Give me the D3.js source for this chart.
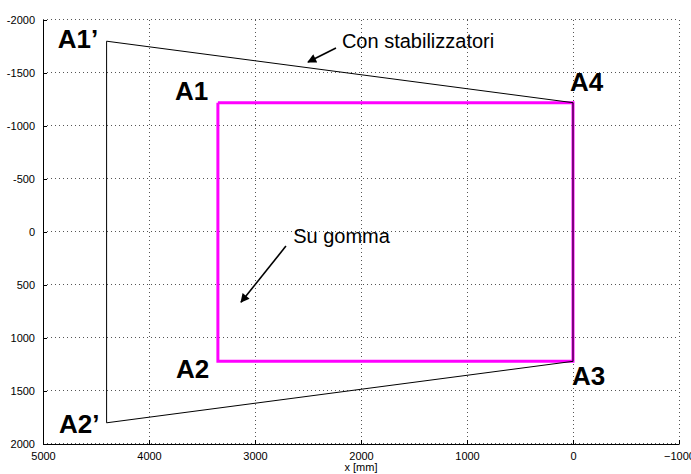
<!DOCTYPE html>
<html>
<head>
<meta charset="utf-8">
<script src="https://cdn.jsdelivr.net/npm/d3@7"></script>
<style>
  body { margin: 0; background: #fff; }
  svg { display: block; font-family: "Liberation Sans", Arial, sans-serif; }
</style>
</head>
<body>
<div id="chart"></div>
<script>
// axis ticks
const xTicks = [5000, 4000, 3000, 2000, 1000, 0, -1000];
const yTicks = [-2000, -1500, -1000, -500, 0, 500, 1000, 1500, 2000];

// outline "Con stabilizzatori" (A1', A4, A3, A2', back to A1')
const stabX = [4400, 0, 0, 4400, 4400];
const stabY = [-1800, -1220, 1220, 1800, -1800];

// outline "Su gomma" (A1, A4, A3, A2, back to A1)
const gommaX = [3350, 0, 0, 3350, 3350];
const gommaY = [-1220, -1220, 1220, 1220, -1220];

// corner labels, anchored in data units
const cornerNames = ["A1\u2019", "A1", "A4", "A3", "A2", "A2\u2019"];
const cornerX = [4860, 3755, 28, 10, 3745, 4850];
const cornerY = [-1736, -1245, -1330, 1446, 1380, 1899];

// annotations: text + arrow (tail -> head), data units
const noteText = ["Con stabilizzatori", "Su gomma"];
const noteX = [2180, 2640];
const noteY = [-1736, 105];
const arrowFromX = [2236, 2708];
const arrowFromY = [-1736, 133];
const arrowToX = [2500, 3132];
const arrowToY = [-1604, 662];

const W = 691, H = 474;
const margin = {top: 20, right: 12, bottom: 30, left: 43};
const width = W - margin.left - margin.right;
const height = H - margin.top - margin.bottom;

const svg = d3.select("#chart").append("svg")
    .attr("width", W)
    .attr("height", H);

svg.append("defs").append("marker")
    .attr("id", "head")
    .attr("viewBox", "0 0 10 10")
    .attr("refX", 9)
    .attr("refY", 5)
    .attr("markerUnits", "userSpaceOnUse")
    .attr("markerWidth", 11)
    .attr("markerHeight", 9)
    .attr("orient", "auto")
    .append("path")
    .attr("d", "M0,0 L10,5 L0,10 z")
    .attr("fill", "#000");

const g = svg.append("g")
    .attr("transform", "translate(" + margin.left + "," + margin.top + ")");

const x = d3.scaleLinear().domain([5000, -1000]).range([0, width]);
const y = d3.scaleLinear().domain([-2000, 2000]).range([0, height]);

// grid (dotted, matlab style)
g.append("g").selectAll("line.vg")
    .data(xTicks)
    .enter().append("line")
    .attr("x1", d => x(d) + 0.5).attr("x2", d => x(d) + 0.5)
    .attr("y1", 0).attr("y2", height)
    .attr("stroke", "#555").attr("stroke-width", 1)
    .attr("stroke-dasharray", "1,3");

g.append("g").selectAll("line.hg")
    .data(yTicks)
    .enter().append("line")
    .attr("x1", 0).attr("x2", width)
    .attr("y1", d => y(d) - 0.5).attr("y2", d => y(d) - 0.5)
    .attr("stroke", "#555").attr("stroke-width", 1)
    .attr("stroke-dasharray", "1,3");

// axes
const xAxis = d3.axisBottom(x)
    .tickValues(xTicks)
    .tickSizeInner(-4)
    .tickSizeOuter(0)
    .tickPadding(8)
    .tickFormat(d => d < 0 ? "\u2212" + Math.abs(d) : String(d));

const yAxis = d3.axisLeft(y)
    .tickValues(yTicks)
    .tickSizeInner(-4)
    .tickSizeOuter(0)
    .tickPadding(8)
    .tickFormat(d => d < 0 ? "-" + Math.abs(d) : String(d));

const gx = g.append("g")
    .attr("transform", "translate(0," + height + ")")
    .call(xAxis);
const gy = g.append("g").call(yAxis);

[gx, gy].forEach(a => {
    a.selectAll("text").style("font-size", "11px").style("font-family", "'Liberation Sans', Arial, sans-serif").attr("fill", "#000");
    a.selectAll("line").attr("stroke", "#000");
    a.select(".domain").attr("stroke", "#000");
});

g.append("text")
    .attr("x", width / 2)
    .attr("y", height + 27)
    .attr("text-anchor", "middle")
    .style("font-size", "11px")
    .text("x  [mm]");

// outlines
const line = d3.line()
    .x(d => x(d[0]))
    .y(d => y(d[1]));

g.append("path")
    .attr("d", line(gommaX.map((v, i) => [v, gommaY[i]])))
    .attr("fill", "none")
    .attr("stroke", "#ff00ff")
    .attr("stroke-width", 3)
    .attr("stroke-linejoin", "miter");

g.append("path")
    .attr("d", line(stabX.map((v, i) => [v, stabY[i]])))
    .attr("fill", "none")
    .attr("stroke", "#000")
    .attr("stroke-width", 1);

// corner labels
g.selectAll("text.corner")
    .data(cornerNames)
    .enter().append("text")
    .attr("class", "corner")
    .attr("x", (d, i) => x(cornerX[i]))
    .attr("y", (d, i) => y(cornerY[i]))
    .style("font-size", "26px")
    .style("font-weight", "bold")
    .text(d => d);

// annotations
g.selectAll("line.arrow")
    .data(noteText)
    .enter().append("line")
    .attr("class", "arrow")
    .attr("x1", (d, i) => x(arrowFromX[i]))
    .attr("y1", (d, i) => y(arrowFromY[i]))
    .attr("x2", (d, i) => x(arrowToX[i]))
    .attr("y2", (d, i) => y(arrowToY[i]))
    .attr("stroke", "#000")
    .attr("stroke-width", 1.6)
    .attr("marker-end", "url(#head)");

g.selectAll("text.note")
    .data(noteText)
    .enter().append("text")
    .attr("class", "note")
    .attr("x", (d, i) => x(noteX[i]))
    .attr("y", (d, i) => y(noteY[i]))
    .style("font-size", "20px")
    .text(d => d);
</script>
</body>
</html>
